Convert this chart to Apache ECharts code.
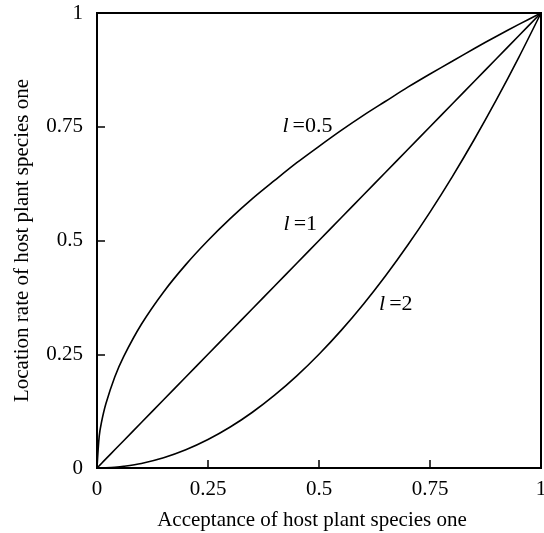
<!DOCTYPE html>
<html>
<head>
<meta charset="utf-8">
<script src="https://cdn.jsdelivr.net/npm/echarts@6/dist/echarts.min.js"></script>
<style>
html, body { margin: 0; padding: 0; background: #fff; }
#container { width: 544px; height: 533px; }
</style>
</head>
<body>
<div id="container"></div>
<script>
var dom = document.getElementById("container");
var myChart = echarts.init(dom);

// acceptance values (x)
var acceptance = [0, 0.005, 0.01, 0.02, 0.04, 0.06, 0.1, 0.15, 0.2, 0.25, 0.3, 0.35, 0.4, 0.45, 0.5,
    0.55, 0.6, 0.65, 0.7, 0.75, 0.8, 0.85, 0.9, 0.95, 1];
// location rate
var rateHalf = [0, 0.07, 0.1, 0.141, 0.2, 0.245, 0.316, 0.387, 0.447, 0.5, 0.548, 0.592, 0.632, 0.671, 0.707,
    0.742, 0.775, 0.806, 0.837, 0.866, 0.894, 0.922, 0.949, 0.975, 1];
var rateOne = [0, 0.005, 0.01, 0.02, 0.04, 0.06, 0.1, 0.15, 0.2, 0.25, 0.3, 0.35, 0.4, 0.45, 0.5,
    0.55, 0.6, 0.65, 0.7, 0.75, 0.8, 0.85, 0.9, 0.95, 1];
var rateTwo = [0, 0, 0.0001, 0.0004, 0.0016, 0.0036, 0.01, 0.0225, 0.04, 0.0625, 0.09, 0.1225, 0.16, 0.2025, 0.25,
    0.3025, 0.36, 0.4225, 0.49, 0.5625, 0.64, 0.7225, 0.81, 0.9025, 1];

var tickLabels = ['0', '0.25', '0.5', '0.75', '1'];

// curve labels: [text after "l", x, y]
var curveLabels = [
    ['=0.5', 0.474, 0.751],
    ['=1', 0.458, 0.535],
    ['=2', 0.673, 0.359]
];

function pairs(ys) {
    var out = [];
    for (var i = 0; i < acceptance.length; i++) {
        out.push([acceptance[i], ys[i]]);
    }
    return out;
}

function tickFmt(v) {
    var i = Math.round(v * 4);
    return tickLabels[i];
}

var font = 'Liberation Serif';

function lineSeries(ys) {
    return {
        type: 'line',
        data: pairs(ys),
        smooth: 0.3,
        showSymbol: false,
        lineStyle: { color: '#000', width: 1.6 },
        silent: true
    };
}

option = {
    animation: false,
    backgroundColor: '#fff',
    grid: {
        left: 97, right: 3, top: 13, bottom: 65,
        outerBoundsMode: 'none', containLabel: false,
        show: true, borderColor: '#000', borderWidth: 2
    },
    xAxis: {
        type: 'value', min: 0, max: 1, interval: 0.25,
        name: 'Acceptance of host plant species one',
        nameLocation: 'middle', nameGap: 42,
        nameTextStyle: { fontFamily: font, fontSize: 21, color: '#000', padding: [0, 14, 0, 0] },
        axisLine: { show: false },
        axisTick: { inside: true, length: 8, lineStyle: { color: '#000', width: 1.5 } },
        axisLabel: { formatter: tickFmt, fontFamily: font, fontSize: 21, color: '#000', margin: 11 },
        splitLine: { show: false }
    },
    yAxis: {
        type: 'value', min: 0, max: 1, interval: 0.25,
        name: 'Location rate of host plant species one',
        nameLocation: 'middle', nameGap: 64,
        nameTextStyle: { fontFamily: font, fontSize: 21, color: '#000' },
        axisLine: { show: false },
        axisTick: { inside: true, length: 8, lineStyle: { color: '#000', width: 1.5 } },
        axisLabel: { formatter: tickFmt, fontFamily: font, fontSize: 21, color: '#000', margin: 14 },
        splitLine: { show: false }
    },
    series: [lineSeries(rateHalf), lineSeries(rateOne), lineSeries(rateTwo)]
};

myChart.setOption(option, true);

var graphics = [];
for (var i = 0; i < curveLabels.length; i++) {
    var p = myChart.convertToPixel({ gridIndex: 0 }, [curveLabels[i][1], curveLabels[i][2]]);
    graphics.push({
        type: 'text',
        x: p[0], y: p[1],
        style: {
            text: '{i|l}{n|' + curveLabels[i][0] + '}',
            align: 'center', verticalAlign: 'middle',
            rich: {
                i: { fontFamily: font, fontStyle: 'italic', fontSize: 22, fill: '#000', padding: [0, 4, 0, 0] },
                n: { fontFamily: font, fontSize: 22, fill: '#000' }
            }
        }
    });
}
myChart.setOption({ graphic: graphics });
</script>
</body>
</html>
